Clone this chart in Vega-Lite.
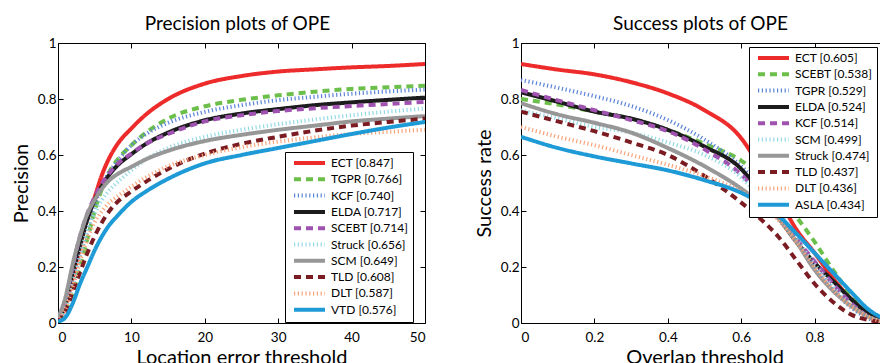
{
  "$schema": "https://vega.github.io/schema/vega-lite/v6.json",
  "background": "white",
  "padding": {"left": 10, "top": 14, "right": 0, "bottom": 0},
  "spacing": 44,
  "config": {
    "font": "Lato",
    "view": {"stroke": "black", "strokeWidth": 1},
    "axis": {"grid": false, "domain": false, "tickColor": "black", "labelColor": "black", "titleColor": "black", "labelFontSize": 13.5, "titleFontSize": 20, "titleFontWeight": "normal", "tickSize": -5, "labelPadding": 12, "format": "~r"},
    "axisY": {"labelPadding": 7},
    "title": {"fontSize": 19, "fontWeight": "normal", "offset": 2, "baseline": "alphabetic", "color": "black", "dx": -4},
    "legend": {"orient": "none", "strokeColor": "black", "fillColor": "white", "padding": 4, "labelFontSize": 12, "labelColor": "black", "symbolType": "M-0.4,0H5.8", "symbolSize": 100, "rowPadding": 0.3, "labelOffset": 28, "title": null, "labelExpr": "datum.label + '\u00a0\u00a0\u00a0\u00a0\u00a0\u00a0'"}
  },
  "datasets": {
    "prec": [
      {"s":"ECT [0.847]","x":0,"y":0.01},{"s":"ECT [0.847]","x":1,"y":0.06},{"s":"ECT [0.847]","x":2,"y":0.16},{"s":"ECT [0.847]","x":3,"y":0.27},{"s":"ECT [0.847]","x":4,"y":0.37},{"s":"ECT [0.847]","x":5,"y":0.45},{"s":"ECT [0.847]","x":6,"y":0.53},{"s":"ECT [0.847]","x":7,"y":0.59},{"s":"ECT [0.847]","x":8,"y":0.635},{"s":"ECT [0.847]","x":10,"y":0.695},{"s":"ECT [0.847]","x":12,"y":0.745},{"s":"ECT [0.847]","x":15,"y":0.8},{"s":"ECT [0.847]","x":20,"y":0.855},{"s":"ECT [0.847]","x":25,"y":0.882},{"s":"ECT [0.847]","x":30,"y":0.898},{"s":"ECT [0.847]","x":35,"y":0.906},{"s":"ECT [0.847]","x":40,"y":0.913},{"s":"ECT [0.847]","x":45,"y":0.918},{"s":"ECT [0.847]","x":50,"y":0.925},
      {"s":"TGPR [0.766]","x":0,"y":0.01},{"s":"TGPR [0.766]","x":1,"y":0.04},{"s":"TGPR [0.766]","x":2,"y":0.11},{"s":"TGPR [0.766]","x":3,"y":0.2},{"s":"TGPR [0.766]","x":4,"y":0.3},{"s":"TGPR [0.766]","x":5,"y":0.4},{"s":"TGPR [0.766]","x":6,"y":0.48},{"s":"TGPR [0.766]","x":7,"y":0.54},{"s":"TGPR [0.766]","x":8,"y":0.58},{"s":"TGPR [0.766]","x":10,"y":0.635},{"s":"TGPR [0.766]","x":12,"y":0.68},{"s":"TGPR [0.766]","x":15,"y":0.73},{"s":"TGPR [0.766]","x":20,"y":0.774},{"s":"TGPR [0.766]","x":25,"y":0.797},{"s":"TGPR [0.766]","x":30,"y":0.813},{"s":"TGPR [0.766]","x":35,"y":0.826},{"s":"TGPR [0.766]","x":40,"y":0.836},{"s":"TGPR [0.766]","x":45,"y":0.842},{"s":"TGPR [0.766]","x":50,"y":0.847},
      {"s":"KCF [0.740]","x":0,"y":0.01},{"s":"KCF [0.740]","x":1,"y":0.05},{"s":"KCF [0.740]","x":2,"y":0.14},{"s":"KCF [0.740]","x":3,"y":0.24},{"s":"KCF [0.740]","x":4,"y":0.33},{"s":"KCF [0.740]","x":5,"y":0.42},{"s":"KCF [0.740]","x":6,"y":0.49},{"s":"KCF [0.740]","x":7,"y":0.54},{"s":"KCF [0.740]","x":8,"y":0.575},{"s":"KCF [0.740]","x":10,"y":0.635},{"s":"KCF [0.740]","x":12,"y":0.675},{"s":"KCF [0.740]","x":15,"y":0.715},{"s":"KCF [0.740]","x":20,"y":0.754},{"s":"KCF [0.740]","x":25,"y":0.778},{"s":"KCF [0.740]","x":30,"y":0.796},{"s":"KCF [0.740]","x":35,"y":0.808},{"s":"KCF [0.740]","x":40,"y":0.819},{"s":"KCF [0.740]","x":45,"y":0.827},{"s":"KCF [0.740]","x":50,"y":0.834},
      {"s":"ELDA [0.717]","x":0,"y":0.01},{"s":"ELDA [0.717]","x":1,"y":0.07},{"s":"ELDA [0.717]","x":2,"y":0.18},{"s":"ELDA [0.717]","x":3,"y":0.28},{"s":"ELDA [0.717]","x":4,"y":0.37},{"s":"ELDA [0.717]","x":5,"y":0.44},{"s":"ELDA [0.717]","x":6,"y":0.49},{"s":"ELDA [0.717]","x":7,"y":0.53},{"s":"ELDA [0.717]","x":8,"y":0.56},{"s":"ELDA [0.717]","x":10,"y":0.603},{"s":"ELDA [0.717]","x":12,"y":0.64},{"s":"ELDA [0.717]","x":15,"y":0.68},{"s":"ELDA [0.717]","x":20,"y":0.724},{"s":"ELDA [0.717]","x":25,"y":0.748},{"s":"ELDA [0.717]","x":30,"y":0.764},{"s":"ELDA [0.717]","x":35,"y":0.778},{"s":"ELDA [0.717]","x":40,"y":0.788},{"s":"ELDA [0.717]","x":45,"y":0.797},{"s":"ELDA [0.717]","x":50,"y":0.805},
      {"s":"SCEBT [0.714]","x":0,"y":0.01},{"s":"SCEBT [0.714]","x":1,"y":0.08},{"s":"SCEBT [0.714]","x":2,"y":0.2},{"s":"SCEBT [0.714]","x":3,"y":0.31},{"s":"SCEBT [0.714]","x":4,"y":0.39},{"s":"SCEBT [0.714]","x":5,"y":0.45},{"s":"SCEBT [0.714]","x":6,"y":0.5},{"s":"SCEBT [0.714]","x":7,"y":0.535},{"s":"SCEBT [0.714]","x":8,"y":0.565},{"s":"SCEBT [0.714]","x":10,"y":0.605},{"s":"SCEBT [0.714]","x":12,"y":0.64},{"s":"SCEBT [0.714]","x":15,"y":0.675},{"s":"SCEBT [0.714]","x":20,"y":0.72},{"s":"SCEBT [0.714]","x":25,"y":0.742},{"s":"SCEBT [0.714]","x":30,"y":0.757},{"s":"SCEBT [0.714]","x":35,"y":0.767},{"s":"SCEBT [0.714]","x":40,"y":0.775},{"s":"SCEBT [0.714]","x":45,"y":0.782},{"s":"SCEBT [0.714]","x":50,"y":0.79},
      {"s":"Struck [0.656]","x":0,"y":0.01},{"s":"Struck [0.656]","x":1,"y":0.05},{"s":"Struck [0.656]","x":2,"y":0.14},{"s":"Struck [0.656]","x":3,"y":0.24},{"s":"Struck [0.656]","x":4,"y":0.33},{"s":"Struck [0.656]","x":5,"y":0.39},{"s":"Struck [0.656]","x":6,"y":0.44},{"s":"Struck [0.656]","x":7,"y":0.475},{"s":"Struck [0.656]","x":8,"y":0.5},{"s":"Struck [0.656]","x":10,"y":0.546},{"s":"Struck [0.656]","x":12,"y":0.585},{"s":"Struck [0.656]","x":15,"y":0.625},{"s":"Struck [0.656]","x":20,"y":0.665},{"s":"Struck [0.656]","x":25,"y":0.69},{"s":"Struck [0.656]","x":30,"y":0.71},{"s":"Struck [0.656]","x":35,"y":0.727},{"s":"Struck [0.656]","x":40,"y":0.742},{"s":"Struck [0.656]","x":45,"y":0.755},{"s":"Struck [0.656]","x":50,"y":0.766},
      {"s":"SCM [0.649]","x":0,"y":0.02},{"s":"SCM [0.649]","x":1,"y":0.09},{"s":"SCM [0.649]","x":2,"y":0.21},{"s":"SCM [0.649]","x":3,"y":0.31},{"s":"SCM [0.649]","x":4,"y":0.39},{"s":"SCM [0.649]","x":5,"y":0.44},{"s":"SCM [0.649]","x":6,"y":0.48},{"s":"SCM [0.649]","x":7,"y":0.51},{"s":"SCM [0.649]","x":8,"y":0.53},{"s":"SCM [0.649]","x":10,"y":0.558},{"s":"SCM [0.649]","x":12,"y":0.585},{"s":"SCM [0.649]","x":15,"y":0.615},{"s":"SCM [0.649]","x":20,"y":0.65},{"s":"SCM [0.649]","x":25,"y":0.672},{"s":"SCM [0.649]","x":30,"y":0.69},{"s":"SCM [0.649]","x":35,"y":0.705},{"s":"SCM [0.649]","x":40,"y":0.72},{"s":"SCM [0.649]","x":45,"y":0.73},{"s":"SCM [0.649]","x":50,"y":0.739},
      {"s":"TLD [0.608]","x":0,"y":0.005},{"s":"TLD [0.608]","x":1,"y":0.04},{"s":"TLD [0.608]","x":2,"y":0.11},{"s":"TLD [0.608]","x":3,"y":0.18},{"s":"TLD [0.608]","x":4,"y":0.25},{"s":"TLD [0.608]","x":5,"y":0.31},{"s":"TLD [0.608]","x":6,"y":0.36},{"s":"TLD [0.608]","x":7,"y":0.4},{"s":"TLD [0.608]","x":8,"y":0.43},{"s":"TLD [0.608]","x":10,"y":0.47},{"s":"TLD [0.608]","x":12,"y":0.505},{"s":"TLD [0.608]","x":15,"y":0.55},{"s":"TLD [0.608]","x":20,"y":0.605},{"s":"TLD [0.608]","x":25,"y":0.64},{"s":"TLD [0.608]","x":30,"y":0.665},{"s":"TLD [0.608]","x":35,"y":0.687},{"s":"TLD [0.608]","x":40,"y":0.705},{"s":"TLD [0.608]","x":45,"y":0.718},{"s":"TLD [0.608]","x":50,"y":0.73},
      {"s":"DLT [0.587]","x":0,"y":0.005},{"s":"DLT [0.587]","x":1,"y":0.05},{"s":"DLT [0.587]","x":2,"y":0.13},{"s":"DLT [0.587]","x":3,"y":0.22},{"s":"DLT [0.587]","x":4,"y":0.3},{"s":"DLT [0.587]","x":5,"y":0.36},{"s":"DLT [0.587]","x":6,"y":0.4},{"s":"DLT [0.587]","x":7,"y":0.43},{"s":"DLT [0.587]","x":8,"y":0.45},{"s":"DLT [0.587]","x":10,"y":0.487},{"s":"DLT [0.587]","x":12,"y":0.52},{"s":"DLT [0.587]","x":15,"y":0.56},{"s":"DLT [0.587]","x":20,"y":0.6},{"s":"DLT [0.587]","x":25,"y":0.628},{"s":"DLT [0.587]","x":30,"y":0.648},{"s":"DLT [0.587]","x":35,"y":0.663},{"s":"DLT [0.587]","x":40,"y":0.675},{"s":"DLT [0.587]","x":45,"y":0.683},{"s":"DLT [0.587]","x":50,"y":0.69},
      {"s":"VTD [0.576]","x":0,"y":0.005},{"s":"VTD [0.576]","x":1,"y":0.02},{"s":"VTD [0.576]","x":2,"y":0.07},{"s":"VTD [0.576]","x":3,"y":0.14},{"s":"VTD [0.576]","x":4,"y":0.2},{"s":"VTD [0.576]","x":5,"y":0.26},{"s":"VTD [0.576]","x":6,"y":0.31},{"s":"VTD [0.576]","x":7,"y":0.35},{"s":"VTD [0.576]","x":8,"y":0.38},{"s":"VTD [0.576]","x":10,"y":0.433},{"s":"VTD [0.576]","x":12,"y":0.47},{"s":"VTD [0.576]","x":15,"y":0.515},{"s":"VTD [0.576]","x":20,"y":0.57},{"s":"VTD [0.576]","x":25,"y":0.6},{"s":"VTD [0.576]","x":30,"y":0.625},{"s":"VTD [0.576]","x":35,"y":0.65},{"s":"VTD [0.576]","x":40,"y":0.675},{"s":"VTD [0.576]","x":45,"y":0.698},{"s":"VTD [0.576]","x":50,"y":0.718}
    ],
    "succ": [
      {"s":"ECT [0.605]","x":0,"y":0.925},{"s":"ECT [0.605]","x":0.1,"y":0.905},{"s":"ECT [0.605]","x":0.2,"y":0.888},{"s":"ECT [0.605]","x":0.3,"y":0.86},{"s":"ECT [0.605]","x":0.4,"y":0.82},{"s":"ECT [0.605]","x":0.5,"y":0.76},{"s":"ECT [0.605]","x":0.6,"y":0.66},{"s":"ECT [0.605]","x":0.65,"y":0.56},{"s":"ECT [0.605]","x":0.7,"y":0.45},{"s":"ECT [0.605]","x":0.75,"y":0.335},{"s":"ECT [0.605]","x":0.8,"y":0.25},{"s":"ECT [0.605]","x":0.85,"y":0.16},{"s":"ECT [0.605]","x":0.9,"y":0.085},{"s":"ECT [0.605]","x":0.95,"y":0.03},{"s":"ECT [0.605]","x":1,"y":0.005},
      {"s":"SCEBT [0.538]","x":0,"y":0.8},{"s":"SCEBT [0.538]","x":0.1,"y":0.78},{"s":"SCEBT [0.538]","x":0.2,"y":0.755},{"s":"SCEBT [0.538]","x":0.3,"y":0.73},{"s":"SCEBT [0.538]","x":0.4,"y":0.69},{"s":"SCEBT [0.538]","x":0.5,"y":0.64},{"s":"SCEBT [0.538]","x":0.6,"y":0.58},{"s":"SCEBT [0.538]","x":0.65,"y":0.53},{"s":"SCEBT [0.538]","x":0.7,"y":0.46},{"s":"SCEBT [0.538]","x":0.75,"y":0.38},{"s":"SCEBT [0.538]","x":0.8,"y":0.29},{"s":"SCEBT [0.538]","x":0.85,"y":0.19},{"s":"SCEBT [0.538]","x":0.9,"y":0.1},{"s":"SCEBT [0.538]","x":0.95,"y":0.035},{"s":"SCEBT [0.538]","x":1,"y":0.005},
      {"s":"TGPR [0.529]","x":0,"y":0.868},{"s":"TGPR [0.529]","x":0.1,"y":0.84},{"s":"TGPR [0.529]","x":0.2,"y":0.81},{"s":"TGPR [0.529]","x":0.3,"y":0.775},{"s":"TGPR [0.529]","x":0.4,"y":0.725},{"s":"TGPR [0.529]","x":0.5,"y":0.655},{"s":"TGPR [0.529]","x":0.6,"y":0.56},{"s":"TGPR [0.529]","x":0.65,"y":0.49},{"s":"TGPR [0.529]","x":0.7,"y":0.4},{"s":"TGPR [0.529]","x":0.75,"y":0.3},{"s":"TGPR [0.529]","x":0.8,"y":0.2},{"s":"TGPR [0.529]","x":0.85,"y":0.12},{"s":"TGPR [0.529]","x":0.9,"y":0.055},{"s":"TGPR [0.529]","x":0.95,"y":0.015},{"s":"TGPR [0.529]","x":1,"y":0},
      {"s":"ELDA [0.524]","x":0,"y":0.824},{"s":"ELDA [0.524]","x":0.1,"y":0.79},{"s":"ELDA [0.524]","x":0.2,"y":0.755},{"s":"ELDA [0.524]","x":0.3,"y":0.73},{"s":"ELDA [0.524]","x":0.4,"y":0.69},{"s":"ELDA [0.524]","x":0.5,"y":0.63},{"s":"ELDA [0.524]","x":0.6,"y":0.55},{"s":"ELDA [0.524]","x":0.65,"y":0.47},{"s":"ELDA [0.524]","x":0.7,"y":0.38},{"s":"ELDA [0.524]","x":0.75,"y":0.29},{"s":"ELDA [0.524]","x":0.8,"y":0.215},{"s":"ELDA [0.524]","x":0.85,"y":0.15},{"s":"ELDA [0.524]","x":0.9,"y":0.085},{"s":"ELDA [0.524]","x":0.95,"y":0.03},{"s":"ELDA [0.524]","x":1,"y":0.005},
      {"s":"KCF [0.514]","x":0,"y":0.832},{"s":"KCF [0.514]","x":0.1,"y":0.795},{"s":"KCF [0.514]","x":0.2,"y":0.76},{"s":"KCF [0.514]","x":0.3,"y":0.725},{"s":"KCF [0.514]","x":0.4,"y":0.685},{"s":"KCF [0.514]","x":0.5,"y":0.62},{"s":"KCF [0.514]","x":0.6,"y":0.53},{"s":"KCF [0.514]","x":0.65,"y":0.46},{"s":"KCF [0.514]","x":0.7,"y":0.38},{"s":"KCF [0.514]","x":0.75,"y":0.3},{"s":"KCF [0.514]","x":0.8,"y":0.22},{"s":"KCF [0.514]","x":0.85,"y":0.14},{"s":"KCF [0.514]","x":0.9,"y":0.07},{"s":"KCF [0.514]","x":0.95,"y":0.02},{"s":"KCF [0.514]","x":1,"y":0},
      {"s":"SCM [0.499]","x":0,"y":0.76},{"s":"SCM [0.499]","x":0.1,"y":0.73},{"s":"SCM [0.499]","x":0.2,"y":0.7},{"s":"SCM [0.499]","x":0.3,"y":0.68},{"s":"SCM [0.499]","x":0.4,"y":0.645},{"s":"SCM [0.499]","x":0.5,"y":0.6},{"s":"SCM [0.499]","x":0.6,"y":0.52},{"s":"SCM [0.499]","x":0.65,"y":0.45},{"s":"SCM [0.499]","x":0.7,"y":0.38},{"s":"SCM [0.499]","x":0.75,"y":0.3},{"s":"SCM [0.499]","x":0.8,"y":0.21},{"s":"SCM [0.499]","x":0.85,"y":0.13},{"s":"SCM [0.499]","x":0.9,"y":0.065},{"s":"SCM [0.499]","x":0.95,"y":0.02},{"s":"SCM [0.499]","x":1,"y":0},
      {"s":"Struck [0.474]","x":0,"y":0.785},{"s":"Struck [0.474]","x":0.1,"y":0.745},{"s":"Struck [0.474]","x":0.2,"y":0.715},{"s":"Struck [0.474]","x":0.3,"y":0.68},{"s":"Struck [0.474]","x":0.4,"y":0.625},{"s":"Struck [0.474]","x":0.5,"y":0.56},{"s":"Struck [0.474]","x":0.6,"y":0.48},{"s":"Struck [0.474]","x":0.65,"y":0.43},{"s":"Struck [0.474]","x":0.7,"y":0.375},{"s":"Struck [0.474]","x":0.75,"y":0.29},{"s":"Struck [0.474]","x":0.8,"y":0.19},{"s":"Struck [0.474]","x":0.85,"y":0.115},{"s":"Struck [0.474]","x":0.9,"y":0.06},{"s":"Struck [0.474]","x":0.95,"y":0.02},{"s":"Struck [0.474]","x":1,"y":0},
      {"s":"TLD [0.437]","x":0,"y":0.755},{"s":"TLD [0.437]","x":0.1,"y":0.72},{"s":"TLD [0.437]","x":0.2,"y":0.685},{"s":"TLD [0.437]","x":0.3,"y":0.645},{"s":"TLD [0.437]","x":0.4,"y":0.6},{"s":"TLD [0.437]","x":0.5,"y":0.525},{"s":"TLD [0.437]","x":0.6,"y":0.43},{"s":"TLD [0.437]","x":0.65,"y":0.375},{"s":"TLD [0.437]","x":0.7,"y":0.31},{"s":"TLD [0.437]","x":0.75,"y":0.225},{"s":"TLD [0.437]","x":0.8,"y":0.14},{"s":"TLD [0.437]","x":0.85,"y":0.075},{"s":"TLD [0.437]","x":0.9,"y":0.03},{"s":"TLD [0.437]","x":0.95,"y":0.01},{"s":"TLD [0.437]","x":1,"y":0},
      {"s":"DLT [0.436]","x":0,"y":0.7},{"s":"DLT [0.436]","x":0.1,"y":0.665},{"s":"DLT [0.436]","x":0.2,"y":0.635},{"s":"DLT [0.436]","x":0.3,"y":0.6},{"s":"DLT [0.436]","x":0.4,"y":0.565},{"s":"DLT [0.436]","x":0.5,"y":0.525},{"s":"DLT [0.436]","x":0.6,"y":0.47},{"s":"DLT [0.436]","x":0.65,"y":0.43},{"s":"DLT [0.436]","x":0.7,"y":0.37},{"s":"DLT [0.436]","x":0.75,"y":0.29},{"s":"DLT [0.436]","x":0.8,"y":0.2},{"s":"DLT [0.436]","x":0.85,"y":0.12},{"s":"DLT [0.436]","x":0.9,"y":0.06},{"s":"DLT [0.436]","x":0.95,"y":0.02},{"s":"DLT [0.436]","x":1,"y":0},
      {"s":"ASLA [0.434]","x":0,"y":0.665},{"s":"ASLA [0.434]","x":0.1,"y":0.625},{"s":"ASLA [0.434]","x":0.2,"y":0.595},{"s":"ASLA [0.434]","x":0.3,"y":0.57},{"s":"ASLA [0.434]","x":0.4,"y":0.545},{"s":"ASLA [0.434]","x":0.5,"y":0.51},{"s":"ASLA [0.434]","x":0.6,"y":0.465},{"s":"ASLA [0.434]","x":0.65,"y":0.43},{"s":"ASLA [0.434]","x":0.7,"y":0.385},{"s":"ASLA [0.434]","x":0.75,"y":0.32},{"s":"ASLA [0.434]","x":0.8,"y":0.25},{"s":"ASLA [0.434]","x":0.85,"y":0.18},{"s":"ASLA [0.434]","x":0.9,"y":0.11},{"s":"ASLA [0.434]","x":0.95,"y":0.045},{"s":"ASLA [0.434]","x":1,"y":0.01}
    ]
  },
  "hconcat": [
    {
      "width": 367,
      "height": 280,
      "title": "Precision plots of OPE",
      "data": {"name": "prec"},
      "resolve": {"axis": {"x": "independent", "y": "independent"}},
      "layer": [
        {
          "mark": {"type": "line", "interpolate": "monotone", "clip": true},
          "encoding": {
            "x": {"field": "x", "type": "quantitative", "scale": {"domain": [0, 50], "nice": false}, "axis": {"orient": "bottom", "values": [0, 10, 20, 30, 40, 50], "title": "Location error threshold", "titlePadding": 4}},
            "y": {"field": "y", "type": "quantitative", "scale": {"domain": [0, 1], "nice": false}, "axis": {"orient": "left", "values": [0, 0.2, 0.4, 0.6, 0.8, 1], "title": "Precision", "titlePadding": 6}},
            "color": {"field": "s", "type": "nominal", "sort": null,
              "scale": {"domain": ["ECT [0.847]", "TGPR [0.766]", "KCF [0.740]", "ELDA [0.717]", "SCEBT [0.714]", "Struck [0.656]", "SCM [0.649]", "TLD [0.608]", "DLT [0.587]", "VTD [0.576]"],
                        "range": ["#ee2b2b", "#6dbf4b", "#5b84d6", "#1c1c1c", "#a052b0", "#95d9e4", "#979797", "#7b1c22", "#f8a47a", "#1e9ad6"]},
              "legend": {"legendX": 227, "legendY": 109}},
            "strokeDash": {"field": "s", "type": "nominal", "sort": null,
              "scale": {"domain": ["ECT [0.847]", "TGPR [0.766]", "KCF [0.740]", "ELDA [0.717]", "SCEBT [0.714]", "Struck [0.656]", "SCM [0.649]", "TLD [0.608]", "DLT [0.587]", "VTD [0.576]"],
                        "range": [[1, 0], [7, 5], [1.2, 2.6], [1, 0], [7, 5], [1.2, 2.6], [1, 0], [7, 5], [1.2, 2.6], [1, 0]]},
              "legend": {"legendX": 227, "legendY": 109}},
            "strokeWidth": {"field": "s", "type": "nominal", "sort": null,
              "scale": {"domain": ["ECT [0.847]", "TGPR [0.766]", "KCF [0.740]", "ELDA [0.717]", "SCEBT [0.714]", "Struck [0.656]", "SCM [0.649]", "TLD [0.608]", "DLT [0.587]", "VTD [0.576]"],
                        "range": [4, 4, 3.5, 4, 4, 3.5, 4, 4, 3.5, 4]},
              "legend": {"legendX": 227, "legendY": 109}}
          }
        },
        {
          "mark": {"type": "point", "opacity": 0},
          "encoding": {
            "x": {"field": "x", "type": "quantitative", "axis": {"orient": "top", "values": [0, 10, 20, 30, 40, 50], "labels": false, "title": null}},
            "y": {"field": "y", "type": "quantitative", "axis": {"orient": "right", "values": [0, 0.2, 0.4, 0.6, 0.8, 1], "labels": false, "title": null}}
          }
        }
      ]
    },
    {
      "width": 367,
      "height": 280,
      "title": "Success plots of OPE",
      "data": {"name": "succ"},
      "resolve": {"axis": {"x": "independent", "y": "independent"}},
      "layer": [
        {
          "mark": {"type": "line", "interpolate": "monotone", "clip": true},
          "encoding": {
            "x": {"field": "x", "type": "quantitative", "scale": {"domain": [0, 1], "nice": false}, "axis": {"orient": "bottom", "values": [0, 0.2, 0.4, 0.6, 0.8, 1], "title": "Overlap threshold", "titlePadding": 4}},
            "y": {"field": "y", "type": "quantitative", "scale": {"domain": [0, 1], "nice": false}, "axis": {"orient": "left", "values": [0, 0.2, 0.4, 0.6, 0.8, 1], "title": "Success rate", "titlePadding": 6}},
            "color": {"field": "s", "type": "nominal", "sort": null,
              "scale": {"domain": ["ECT [0.605]", "SCEBT [0.538]", "TGPR [0.529]", "ELDA [0.524]", "KCF [0.514]", "SCM [0.499]", "Struck [0.474]", "TLD [0.437]", "DLT [0.436]", "ASLA [0.434]"],
                        "range": ["#ee2b2b", "#6dbf4b", "#5b84d6", "#1c1c1c", "#a052b0", "#95d9e4", "#979797", "#7b1c22", "#f8a47a", "#1e9ad6"]},
              "legend": {"legendX": 228, "legendY": 4}},
            "strokeDash": {"field": "s", "type": "nominal", "sort": null,
              "scale": {"domain": ["ECT [0.605]", "SCEBT [0.538]", "TGPR [0.529]", "ELDA [0.524]", "KCF [0.514]", "SCM [0.499]", "Struck [0.474]", "TLD [0.437]", "DLT [0.436]", "ASLA [0.434]"],
                        "range": [[1, 0], [7, 5], [1.2, 2.6], [1, 0], [7, 5], [1.2, 2.6], [1, 0], [7, 5], [1.2, 2.6], [1, 0]]},
              "legend": {"legendX": 228, "legendY": 4}},
            "strokeWidth": {"field": "s", "type": "nominal", "sort": null,
              "scale": {"domain": ["ECT [0.605]", "SCEBT [0.538]", "TGPR [0.529]", "ELDA [0.524]", "KCF [0.514]", "SCM [0.499]", "Struck [0.474]", "TLD [0.437]", "DLT [0.436]", "ASLA [0.434]"],
                        "range": [4, 4, 3.5, 4, 4, 3.5, 4, 4, 3.5, 4]},
              "legend": {"legendX": 228, "legendY": 4}}
          }
        },
        {
          "mark": {"type": "point", "opacity": 0},
          "encoding": {
            "x": {"field": "x", "type": "quantitative", "axis": {"orient": "top", "values": [0, 0.2, 0.4, 0.6, 0.8, 1], "labels": false, "title": null}},
            "y": {"field": "y", "type": "quantitative", "axis": {"orient": "right", "values": [0, 0.2, 0.4, 0.6, 0.8, 1], "labels": false, "title": null}}
          }
        }
      ]
    }
  ],
  "resolve": {"scale": {"color": "independent", "strokeDash": "independent", "strokeWidth": "independent", "x": "independent", "y": "independent"}, "legend": {"color": "independent", "strokeDash": "independent", "strokeWidth": "independent"}}
}
